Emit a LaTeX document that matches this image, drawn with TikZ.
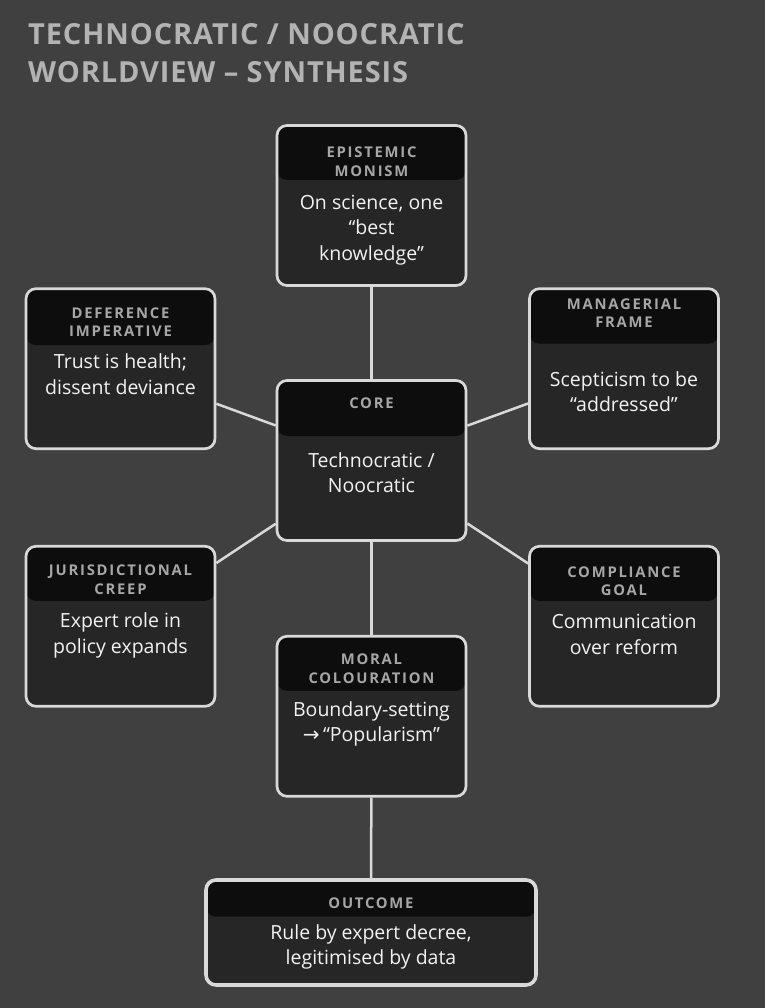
\documentclass[tikz,border=0pt]{standalone}
\usepackage{fontspec}
\setmainfont{Open Sans}
\newfontfamily\hdrfont[LetterSpace=12]{Open Sans}
\newfontfamily\titlefont[LetterSpace=3]{Open Sans}
\newfontfamily\symfont{DejaVu Sans}
\definecolor{bg}{HTML}{404040}
\definecolor{bodyc}{HTML}{262626}
\definecolor{hdrc}{HTML}{0D0D0D}
\definecolor{edge}{HTML}{D9D9D9}
\definecolor{hdrtxt}{HTML}{A6A6A6}
\definecolor{bodytxt}{HTML}{F2F2F2}
\definecolor{titletxt}{HTML}{B3B3B3}
\tikzset{
  card/.style={draw=edge, line width=2.7pt, fill=bodyc, rounded corners=10pt,
    minimum width=189pt, minimum height=160pt, inner sep=0pt,
    path picture={\fill[hdrc] (path picture bounding box.north west) rectangle ([yshift=-#1]path picture bounding box.north east);}},
  card/.default=55pt,
  conn/.style={draw=edge, line width=2.5pt},
  hdrtext/.style={inner sep=0pt, anchor=base, align=center, text=hdrtxt,
    font=\hdrfont\bfseries\fontsize{14.8pt}{18.4pt}\selectfont},
  bodytext/.style={inner sep=0pt, anchor=base, align=center, text=bodytxt,
    font=\fontsize{19.5pt}{25.5pt}\selectfont},
  titletext/.style={inner sep=0pt, anchor=base west, text=titletxt,
    font=\titlefont\bfseries\fontsize{29pt}{34pt}\selectfont}
}
\begin{document}
\begin{tikzpicture}[x=1pt,y=-1pt]
\fill[bg] (0,0) rectangle (765,1008);
\useasboundingbox (0,0) rectangle (765,1008);
\node[titletext] (t1) at (28,44.3) {TECHNOCRATIC / NOOCRATIC};
\node[titletext] (t2) at (28,82.7) {WORLDVIEW – SYNTHESIS};
% cards
\node[card=54.5pt] (epi) at (371.5,205.5) {};
\node[card=55.5pt] (core) at (371.5,460.5) {};
\node[card=56.5pt] (def) at (120.5,368.7) {};
\node[card=55pt] (man) at (624,368.7) {};
\node[card=54.5pt] (jur) at (120.5,626.3) {};
\node[card=54.5pt] (comp) at (624,626.3) {};
\node[card=54.5pt] (moral) at (371.5,716.3) {};
\node[card=36.7pt, line width=3.6pt, minimum width=330pt, minimum height=105pt] (out) at (371,932.5) {};
% connectors
\draw[conn] (epi) -- (core);
\draw[conn] (core) -- (moral);
\draw[conn] (moral) -- (out);
\draw[conn] (core) -- (def);
\draw[conn] (core) -- (man);
\draw[conn] (core) -- (jur);
\draw[conn] (core) -- (comp);
% headers (anchor = baseline of last line)
\node[hdrtext] (epiH) at (371.5,176.3) {EPISTEMIC\\MONISM};
\node[hdrtext] (coreH) at (371.5,408) {CORE};
\node[hdrtext] (defH) at (120.5,336.5) {DEFERENCE\\IMPERATIVE};
\node[hdrtext] (manH) at (624,327.5) {MANAGERIAL\\FRAME};
\node[hdrtext] (jurH) at (120.5,594.3) {JURISDICTIONAL\\CREEP};
\node[hdrtext] (compH) at (624,595.7) {COMPLIANCE\\GOAL};
\node[hdrtext] (moralH) at (371.5,683.3) {MORAL\\COLOURATION};
\node[hdrtext] (outH) at (371,908.3) {OUTCOME};
% bodies (anchor = baseline of last line)
\node[bodytext] (epiT) at (371.5,260) {On science, one\\“best\\knowledge”};
\node[bodytext] (coreT) at (371.5,492.5) {Technocratic /\\Noocratic};
\node[bodytext] (defT) at (120.5,394) {Trust is health;\\dissent deviance};
\node[bodytext] (manT) at (624,411.5) {Scepticism to be\\“addressed”};
\node[bodytext] (jurT) at (120.5,653) {Expert role in\\policy expands};
\node[bodytext] (compT) at (624,654) {Communication\\over reform};
\node[bodytext] (moralT) at (371.5,741.5) {Boundary-setting\\{\symfont\fontsize{20pt}{20pt}\selectfont →}\,“Popularism”};
\node[bodytext, font=\fontsize{19.5pt}{24.5pt}\selectfont] (outT) at (371,964.3) {Rule by expert decree,\\legitimised by data};
\end{tikzpicture}
\end{document}
